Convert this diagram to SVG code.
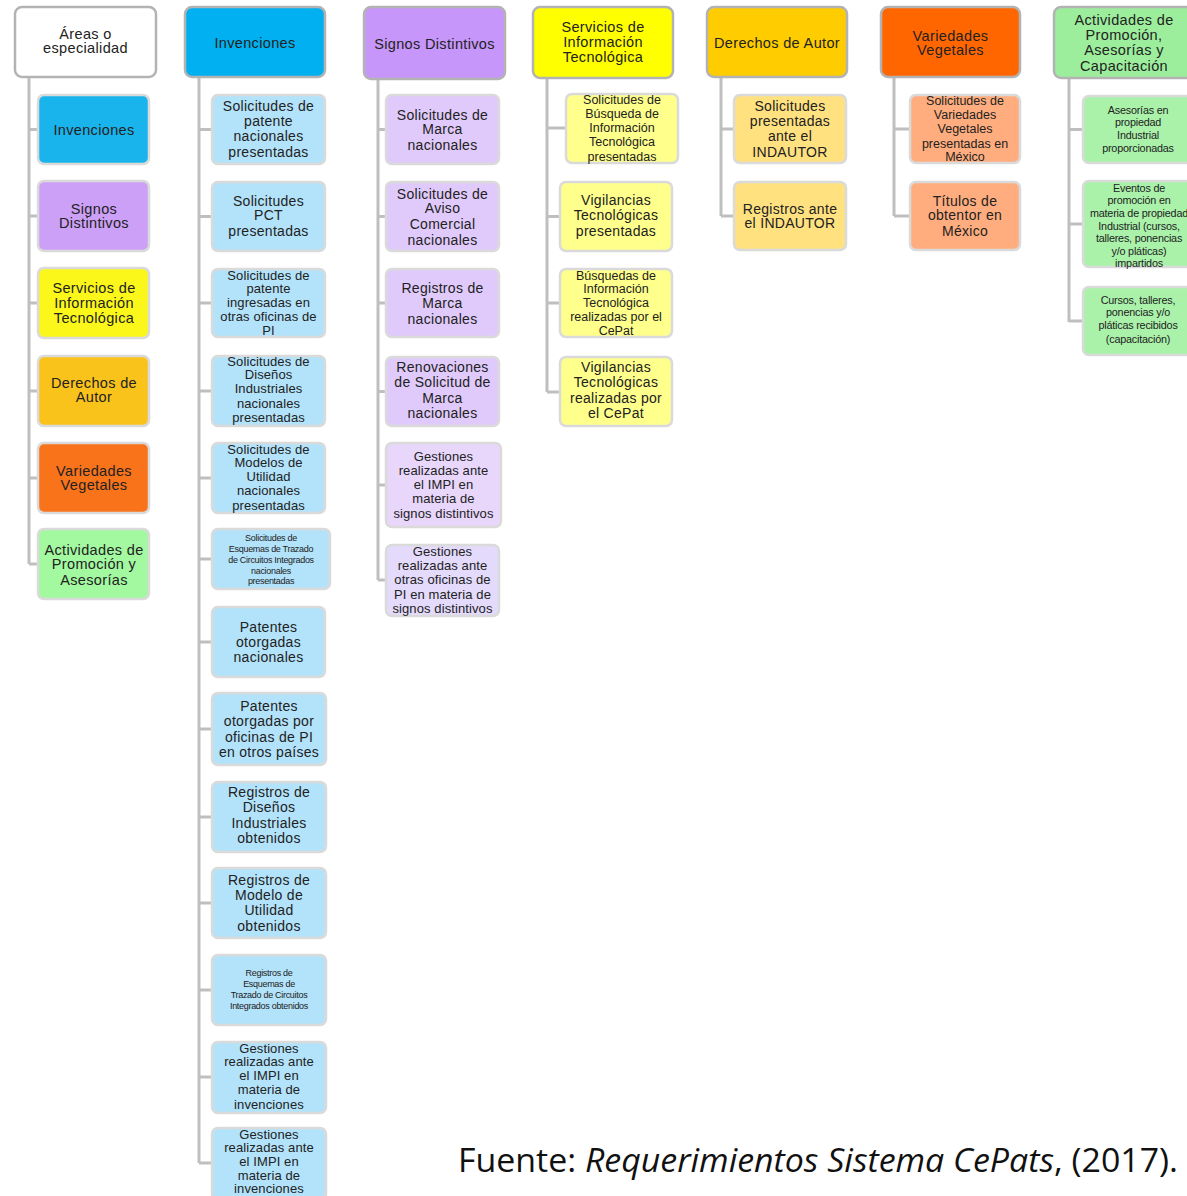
<svg xmlns="http://www.w3.org/2000/svg" width="1187" height="1196" viewBox="0 0 1187 1196">
<style>
.hdr{stroke:#b3b3b3;stroke-width:2.5}
.ch{stroke:#dadada;stroke-width:2.5}
.t{font-family:"Liberation Sans",Arial,sans-serif;fill:#222;text-anchor:middle;font-size:14px;letter-spacing:0.3px}
.h{font-size:14.5px;letter-spacing:0.35px}
.m{font-size:13px;letter-spacing:0.1px}
.s{font-size:12.5px;letter-spacing:0px}
.xs{font-size:10.8px;letter-spacing:-0.2px}
.xxs{font-size:9px;letter-spacing:-0.3px}
.con{stroke:#bfbfbf;stroke-width:3;fill:none}
</style>
<rect width="1187" height="1196" fill="#ffffff"/>
<g id="connectors" class="con">
<path d="M29 77V564M29 129.5H38M29 216H38M29 303H38M29 391H38M29 478H38M29 564H38"/>
<path d="M199 77V1163M199 129.5H212M199 216.5H212M199 303H212M199 391H212M199 478H212M199 559H212M199 642H212M199 729H212M199 817H212M199 903H212M199 990H212M199 1077H212M199 1163H212"/>
<path d="M378 79V580M378 129.5H386M378 216.5H386M378 303H386M378 391.5H386M378 485H386M378 580H386"/>
<path d="M547 78V392M547 128H566M547 216.5H560M547 303H560M547 392H560"/>
<path d="M721 77V216M721 129H734M721 216H734"/>
<path d="M894 77V216M894 129H910M894 216H910"/>
<path d="M1069 78V322M1069 129.5H1083M1069 224H1083M1069 321H1083"/>
</g>

<!-- Column 1 -->
<g id="areas"><rect class="hdr" x="15" y="7" width="141" height="70" rx="7" fill="#ffffff"/>
<text class="t h"><tspan x="85.5" y="39">Áreas o</tspan><tspan x="85.5" y="53">especialidad</tspan></text></g>
<g id="a-invenciones"><rect class="ch" x="38" y="95" width="111" height="69" rx="6" fill="#19b4ec"/>
<text class="t h"><tspan x="94" y="135">Invenciones</tspan></text></g>
<g id="a-signos"><rect class="ch" x="38" y="181" width="111" height="70" rx="6" fill="#cda0f7"/>
<text class="t h"><tspan x="94" y="214">Signos</tspan><tspan x="94" y="228">Distintivos</tspan></text></g>
<g id="a-servicios"><rect class="ch" x="38" y="268" width="111" height="70" rx="6" fill="#fbf71a"/>
<text class="t h"><tspan x="94" y="293">Servicios de</tspan><tspan x="94" y="308">Información</tspan><tspan x="94" y="323">Tecnológica</tspan></text></g>
<g id="a-derechos"><rect class="ch" x="38" y="356" width="111" height="70" rx="6" fill="#fac31c"/>
<text class="t h"><tspan x="94" y="388">Derechos de</tspan><tspan x="94" y="402">Autor</tspan></text></g>
<g id="a-variedades"><rect class="ch" x="38" y="443" width="111" height="70" rx="6" fill="#f9731b"/>
<text class="t h"><tspan x="94" y="476">Variedades</tspan><tspan x="94" y="490">Vegetales</tspan></text></g>
<g id="a-actividades"><rect class="ch" x="38" y="529" width="111" height="70" rx="6" fill="#a2f9a0"/>
<text class="t h"><tspan x="94" y="555">Actividades de</tspan><tspan x="94" y="569">Promoción y</tspan><tspan x="94" y="585">Asesorías</tspan></text></g>

<!-- Column 2 -->
<g id="invenciones"><rect class="hdr" x="185" y="7" width="140" height="70" rx="7" fill="#00b0f0"/>
<text class="t h"><tspan x="255" y="48">Invenciones</tspan></text></g>
<g id="inv-1"><rect class="ch" x="212" y="95" width="113" height="69" rx="6" fill="#b3e3fa"/>
<text class="t"><tspan x="268.5" y="111">Solicitudes de</tspan><tspan x="268.5" y="126">patente</tspan><tspan x="268.5" y="141">nacionales</tspan><tspan x="268.5" y="157">presentadas</tspan></text></g>
<g id="inv-2"><rect class="ch" x="212" y="182" width="113" height="69" rx="6" fill="#b3e3fa"/>
<text class="t"><tspan x="268.5" y="206">Solicitudes</tspan><tspan x="268.5" y="220">PCT</tspan><tspan x="268.5" y="236">presentadas</tspan></text></g>
<g id="inv-3"><rect class="ch" x="212" y="269" width="113" height="68" rx="6" fill="#b3e3fa"/>
<text class="t m"><tspan x="268.5" y="280">Solicitudes de</tspan><tspan x="268.5" y="293">patente</tspan><tspan x="268.5" y="307">ingresadas en</tspan><tspan x="268.5" y="321">otras oficinas de</tspan><tspan x="268.5" y="335">PI</tspan></text></g>
<g id="inv-4"><rect class="ch" x="212" y="356" width="113" height="70" rx="6" fill="#b3e3fa"/>
<text class="t m"><tspan x="268.5" y="366">Solicitudes de</tspan><tspan x="268.5" y="379">Diseños</tspan><tspan x="268.5" y="393">Industriales</tspan><tspan x="268.5" y="408">nacionales</tspan><tspan x="268.5" y="422">presentadas</tspan></text></g>
<g id="inv-5"><rect class="ch" x="212" y="443" width="113" height="70" rx="6" fill="#b3e3fa"/>
<text class="t m"><tspan x="268.5" y="454">Solicitudes de</tspan><tspan x="268.5" y="467">Modelos de</tspan><tspan x="268.5" y="481">Utilidad</tspan><tspan x="268.5" y="495">nacionales</tspan><tspan x="268.5" y="510">presentadas</tspan></text></g>
<g id="inv-6"><rect class="ch" x="212" y="529" width="118" height="60" rx="6" fill="#b3e3fa"/>
<text class="t xxs"><tspan x="271" y="541">Solicitudes de</tspan><tspan x="271" y="552">Esquemas de Trazado</tspan><tspan x="271" y="563">de Circuitos Integrados</tspan><tspan x="271" y="574">nacionales</tspan><tspan x="271" y="584">presentadas</tspan></text></g>
<g id="inv-7"><rect class="ch" x="212" y="607" width="113" height="70" rx="6" fill="#b3e3fa"/>
<text class="t"><tspan x="268.5" y="632">Patentes</tspan><tspan x="268.5" y="647">otorgadas</tspan><tspan x="268.5" y="662">nacionales</tspan></text></g>
<g id="inv-8"><rect class="ch" x="212" y="693" width="114" height="72" rx="6" fill="#b3e3fa"/>
<text class="t"><tspan x="269" y="711">Patentes</tspan><tspan x="269" y="726">otorgadas por</tspan><tspan x="269" y="742">oficinas de PI</tspan><tspan x="269" y="757">en otros países</tspan></text></g>
<g id="inv-9"><rect class="ch" x="212" y="782" width="114" height="70" rx="6" fill="#b3e3fa"/>
<text class="t"><tspan x="269" y="797">Registros de</tspan><tspan x="269" y="812">Diseños</tspan><tspan x="269" y="828">Industriales</tspan><tspan x="269" y="843">obtenidos</tspan></text></g>
<g id="inv-10"><rect class="ch" x="212" y="868" width="114" height="70" rx="6" fill="#b3e3fa"/>
<text class="t"><tspan x="269" y="885">Registros de</tspan><tspan x="269" y="900">Modelo de</tspan><tspan x="269" y="915">Utilidad</tspan><tspan x="269" y="931">obtenidos</tspan></text></g>
<g id="inv-11"><rect class="ch" x="212" y="955" width="114" height="70" rx="6" fill="#b3e3fa"/>
<text class="t xxs"><tspan x="269" y="976">Registros de</tspan><tspan x="269" y="987">Esquemas de</tspan><tspan x="269" y="998">Trazado de Circuitos</tspan><tspan x="269" y="1009">Integrados obtenidos</tspan></text></g>
<g id="inv-12"><rect class="ch" x="212" y="1042" width="114" height="71" rx="6" fill="#b3e3fa"/>
<text class="t m"><tspan x="269" y="1053">Gestiones</tspan><tspan x="269" y="1066">realizadas ante</tspan><tspan x="269" y="1080">el IMPI en</tspan><tspan x="269" y="1094">materia de</tspan><tspan x="269" y="1109">invenciones</tspan></text></g>
<g id="inv-13"><rect class="ch" x="212" y="1128" width="114" height="72" rx="6" fill="#b3e3fa"/>
<text class="t m"><tspan x="269" y="1139">Gestiones</tspan><tspan x="269" y="1152">realizadas ante</tspan><tspan x="269" y="1166">el IMPI en</tspan><tspan x="269" y="1180">materia de</tspan><tspan x="269" y="1193">invenciones</tspan></text></g>

<!-- Column 3 -->
<g id="signos"><rect class="hdr" x="364" y="7" width="141" height="72" rx="7" fill="#c796fa"/>
<text class="t h"><tspan x="434.5" y="49">Signos Distintivos</tspan></text></g>
<g id="sig-1"><rect class="ch" x="386" y="95" width="113" height="69" rx="6" fill="#e0cafb"/>
<text class="t"><tspan x="442.5" y="120">Solicitudes de</tspan><tspan x="442.5" y="134">Marca</tspan><tspan x="442.5" y="150">nacionales</tspan></text></g>
<g id="sig-2"><rect class="ch" x="386" y="182" width="113" height="69" rx="6" fill="#e0cafb"/>
<text class="t"><tspan x="442.5" y="199">Solicitudes de</tspan><tspan x="442.5" y="213">Aviso</tspan><tspan x="442.5" y="229">Comercial</tspan><tspan x="442.5" y="245">nacionales</tspan></text></g>
<g id="sig-3"><rect class="ch" x="386" y="269" width="113" height="68" rx="6" fill="#e0cafb"/>
<text class="t"><tspan x="442.5" y="293">Registros de</tspan><tspan x="442.5" y="308">Marca</tspan><tspan x="442.5" y="324">nacionales</tspan></text></g>
<g id="sig-4"><rect class="ch" x="386" y="357" width="113" height="69" rx="6" fill="#e0cafb"/>
<text class="t"><tspan x="442.5" y="372">Renovaciones</tspan><tspan x="442.5" y="387">de Solicitud de</tspan><tspan x="442.5" y="403">Marca</tspan><tspan x="442.5" y="418">nacionales</tspan></text></g>
<g id="sig-5"><rect class="ch" x="386" y="443" width="115" height="84" rx="6" fill="#e8d6fb"/>
<text class="t m"><tspan x="443.5" y="461">Gestiones</tspan><tspan x="443.5" y="475">realizadas ante</tspan><tspan x="443.5" y="489">el IMPI en</tspan><tspan x="443.5" y="503">materia de</tspan><tspan x="443.5" y="518">signos distintivos</tspan></text></g>
<g id="sig-6"><rect class="ch" x="386" y="545" width="113" height="71" rx="6" fill="#e4dafb"/>
<text class="t m"><tspan x="442.5" y="556">Gestiones</tspan><tspan x="442.5" y="570">realizadas ante</tspan><tspan x="442.5" y="584">otras oficinas de</tspan><tspan x="442.5" y="599">PI en materia de</tspan><tspan x="442.5" y="613">signos distintivos</tspan></text></g>

<!-- Column 4 -->
<g id="servicios"><rect class="hdr" x="533" y="7" width="140" height="71" rx="7" fill="#ffff00"/>
<text class="t h"><tspan x="603" y="32">Servicios de</tspan><tspan x="603" y="47">Información</tspan><tspan x="603" y="62">Tecnológica</tspan></text></g>
<g id="ser-1"><rect class="ch" x="566" y="94" width="112" height="69" rx="6" fill="#ffff8c"/>
<text class="t s"><tspan x="622" y="104">Solicitudes de</tspan><tspan x="622" y="118">Búsqueda de</tspan><tspan x="622" y="132">Información</tspan><tspan x="622" y="146">Tecnológica</tspan><tspan x="622" y="161">presentadas</tspan></text></g>
<g id="ser-2"><rect class="ch" x="560" y="182" width="112" height="69" rx="6" fill="#ffff8c"/>
<text class="t"><tspan x="616" y="205">Vigilancias</tspan><tspan x="616" y="220">Tecnológicas</tspan><tspan x="616" y="236">presentadas</tspan></text></g>
<g id="ser-3"><rect class="ch" x="560" y="269" width="112" height="68" rx="6" fill="#ffff8c"/>
<text class="t s"><tspan x="616" y="280">Búsquedas de</tspan><tspan x="616" y="293">Información</tspan><tspan x="616" y="307">Tecnológica</tspan><tspan x="616" y="321">realizadas por el</tspan><tspan x="616" y="335">CePat</tspan></text></g>
<g id="ser-4"><rect class="ch" x="560" y="357" width="112" height="69" rx="6" fill="#ffff8c"/>
<text class="t"><tspan x="616" y="372">Vigilancias</tspan><tspan x="616" y="387">Tecnológicas</tspan><tspan x="616" y="403">realizadas por</tspan><tspan x="616" y="418">el CePat</tspan></text></g>

<!-- Column 5 -->
<g id="derechos"><rect class="hdr" x="707" y="7" width="140" height="70" rx="7" fill="#ffcc00"/>
<text class="t h"><tspan x="777" y="48">Derechos de Autor</tspan></text></g>
<g id="der-1"><rect class="ch" x="734" y="95" width="112" height="68" rx="6" fill="#ffe180"/>
<text class="t"><tspan x="790" y="111">Solicitudes</tspan><tspan x="790" y="126">presentadas</tspan><tspan x="790" y="141">ante el</tspan><tspan x="790" y="157">INDAUTOR</tspan></text></g>
<g id="der-2"><rect class="ch" x="734" y="182" width="112" height="68" rx="6" fill="#ffe180"/>
<text class="t"><tspan x="790" y="214">Registros ante</tspan><tspan x="790" y="228">el INDAUTOR</tspan></text></g>

<!-- Column 6 -->
<g id="variedades"><rect class="hdr" x="881" y="7" width="139" height="70" rx="7" fill="#ff6600"/>
<text class="t h"><tspan x="950.5" y="41">Variedades</tspan><tspan x="950.5" y="55">Vegetales</tspan></text></g>
<g id="var-1"><rect class="ch" x="910" y="95" width="110" height="68" rx="6" fill="#ffad7e"/>
<text class="t s"><tspan x="965" y="105">Solicitudes de</tspan><tspan x="965" y="119">Variedades</tspan><tspan x="965" y="133">Vegetales</tspan><tspan x="965" y="148">presentadas en</tspan><tspan x="965" y="161">México</tspan></text></g>
<g id="var-2"><rect class="ch" x="910" y="182" width="110" height="68" rx="6" fill="#ffad7e"/>
<text class="t"><tspan x="965" y="206">Títulos de</tspan><tspan x="965" y="220">obtentor en</tspan><tspan x="965" y="236">México</tspan></text></g>

<!-- Column 7 -->
<g id="actividades"><rect class="hdr" x="1054" y="7" width="142" height="71" rx="7" fill="#9cee9c"/>
<text class="t h"><tspan x="1124" y="25">Actividades de</tspan><tspan x="1124" y="40">Promoción,</tspan><tspan x="1124" y="55">Asesorías y</tspan><tspan x="1124" y="71">Capacitación</tspan></text></g>
<g id="act-1"><rect class="ch" x="1083" y="96" width="113" height="67" rx="6" fill="#aaf2aa"/>
<text class="t xs"><tspan x="1138" y="114">Asesorías en</tspan><tspan x="1138" y="126">propiedad</tspan><tspan x="1138" y="139">Industrial</tspan><tspan x="1138" y="152">proporcionadas</tspan></text></g>
<g id="act-2"><rect class="ch" x="1083" y="181" width="113" height="86" rx="6" fill="#aaf2aa"/>
<text class="t xs"><tspan x="1139" y="192">Eventos de</tspan><tspan x="1139" y="204">promoción en</tspan><tspan x="1139" y="217">materia de propiedad</tspan><tspan x="1139" y="230">Industrial (cursos,</tspan><tspan x="1139" y="242">talleres, ponencias</tspan><tspan x="1139" y="255">y/o pláticas)</tspan><tspan x="1139" y="267">impartidos</tspan></text></g>
<g id="act-3"><rect class="ch" x="1083" y="287" width="113" height="68" rx="6" fill="#aaf2aa"/>
<text class="t xs"><tspan x="1138" y="304">Cursos, talleres,</tspan><tspan x="1138" y="316">ponencias y/o</tspan><tspan x="1138" y="329">pláticas recibidos</tspan><tspan x="1138" y="343">(capacitación)</tspan></text></g>

<text x="458" y="1172" font-family="'Open Sans','Liberation Sans',sans-serif" font-size="33" fill="#111" textLength="720" lengthAdjust="spacingAndGlyphs">Fuente: <tspan font-style="italic">Requerimientos Sistema CePats</tspan>, (2017).</text>
</svg>
